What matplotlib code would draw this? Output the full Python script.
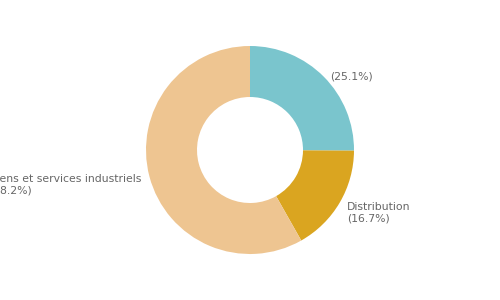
import matplotlib
matplotlib.use("Agg")
import matplotlib.pyplot as plt
import matplotlib.transforms as mtransforms

categories = ["", "Distribution", "Biens et services industriels"]
values = [25.1, 16.7, 58.2]
colors = ["#7AC5CD", "#DAA520", "#EEC591"]

labels = [f"{c}\n({v:.1f}%)" if c else f"({v:.1f}%)" for c, v in zip(categories, values)]

fig = plt.figure(figsize=(5, 3), dpi=100)
ax = fig.add_axes([0, 0, 1, 1])
R = 104.0
wedges, texts = ax.pie(values, labels=labels, colors=colors, startangle=90, counterclock=False,
                       radius=1.0, labeldistance=1.08,
                       wedgeprops=dict(width=51 / R, linewidth=0),
                       textprops=dict(color="#666666", fontsize=7.8, linespacing=1.25))
shift = mtransforms.ScaledTranslation(0, -6 / 100, fig.dpi_scale_trans)
for t in texts:
    t.set_multialignment("left")
    t.set_transform(t.get_transform() + shift)
ax.set_xlim(-250 / R, 250 / R)
ax.set_ylim(-150 / R, 150 / R)
ax.set_aspect("equal")
ax.axis("off")
fig.savefig("out.png", dpi=100)
